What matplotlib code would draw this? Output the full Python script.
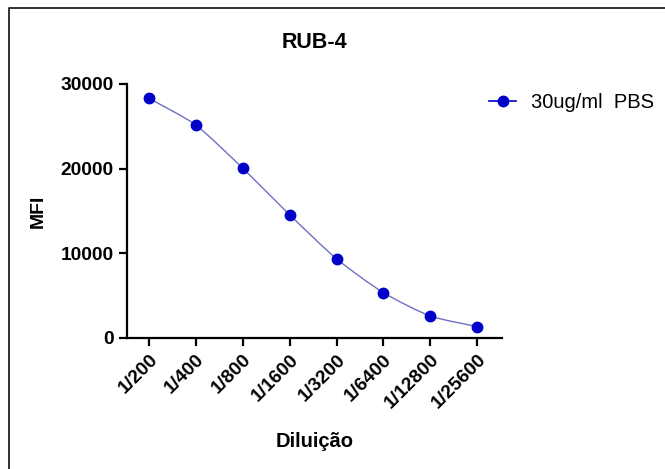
import numpy as np
from matplotlib import pyplot as plt
from matplotlib.path import Path
from matplotlib.patches import PathPatch
from matplotlib.lines import Line2D

plt.rcParams['font.family'] = ['Liberation Sans', 'DejaVu Sans']

dilutions = ['1/200', '1/400', '1/800', '1/1600', '1/3200', '1/6400', '1/12800', '1/25600']
mfi = [28300, 25150, 20050, 14550, 9350, 5350, 2600, 1350]
series_name = '30ug/ml  PBS'

line_col = '#6f6fc4'
dot_col = '#0000c8'

fig = plt.figure(figsize=(6.65, 4.69), dpi=100)
ax = fig.add_axes([127/665, 1-338/469, (502-127)/665, (338-84)/469])

x = np.arange(len(mfi))
y = np.array(mfi, dtype=float)

# smooth connecting line (catmull-rom drawn as bezier path)
verts = [(x[0], y[0])]
codes = [Path.MOVETO]
for i in range(len(x)-1):
    p0 = np.array([x[max(i-1, 0)], y[max(i-1, 0)]])
    p1 = np.array([x[i], y[i]])
    p2 = np.array([x[i+1], y[i+1]])
    p3 = np.array([x[min(i+2, len(x)-1)], y[min(i+2, len(x)-1)]])
    c1 = p1 + (p2 - p0) / 9.0
    c2 = p2 - (p3 - p1) / 9.0
    verts += [tuple(c1), tuple(c2), tuple(p2)]
    codes += [Path.CURVE4]*3
ax.add_patch(PathPatch(Path(verts, codes), facecolor='none', edgecolor=line_col, lw=1.0, zorder=2))
ax.plot(x, y, 'o', color=dot_col, ms=7.5, zorder=3)

ax.set_xlim(-0.47, 7.53)
ax.set_ylim(0, 30000)
ax.set_yticks([0, 10000, 20000, 30000])
ax.set_xticks(x)
ax.set_xticklabels(dilutions, rotation=45, ha='right', rotation_mode='anchor')
for s in ['top', 'right']:
    ax.spines[s].set_visible(False)
for s in ['left', 'bottom']:
    ax.spines[s].set_linewidth(1.6)
ax.tick_params(width=1.6, length=6, labelsize=13.8)
for lab in ax.get_xticklabels() + ax.get_yticklabels():
    lab.set_fontweight('bold')

ax.set_title('RUB-4', fontsize=15.5, fontweight='bold', pad=26)
ax.set_ylabel('MFI', fontsize=14, fontweight='bold', labelpad=10)
ax.set_xlabel('Diluição', fontsize=14.5, fontweight='bold', labelpad=14)

h = Line2D([], [], color=dot_col, marker='o', ms=7.5, lw=1.2)
fig.legend([h], [series_name], loc='center left', bbox_to_anchor=(471/665, 1-103/469),
           frameon=False, fontsize=14.5, handlelength=1.35, handletextpad=0.75)

# page frame (left and top edges)
fig.add_artist(Line2D([9/665, 9/665, 1.0], [0.0, 1-8/469, 1-8/469], color='#222222', lw=1.3))

fig.savefig('out.png', dpi=100)
